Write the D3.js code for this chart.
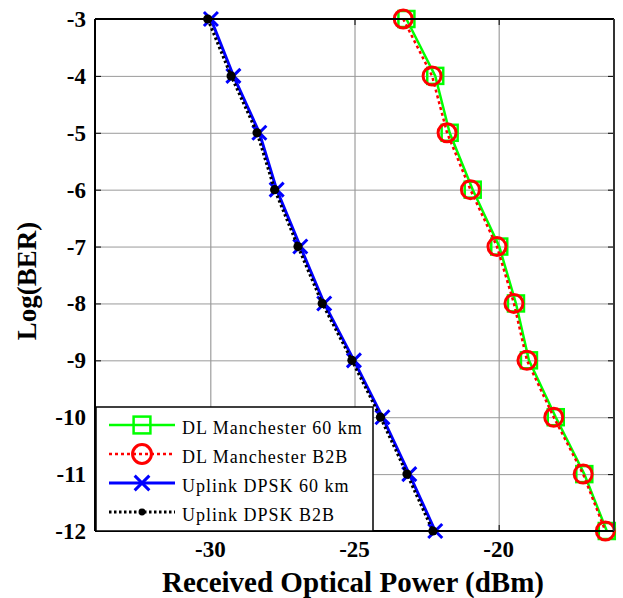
<!DOCTYPE html>
<html>
<head>
<meta charset="utf-8">
<script src="https://cdn.jsdelivr.net/npm/d3@7"></script>
<style>
  body { margin: 0; background: #fff; }
  svg { display: block; }
</style>
</head>
<body>
<svg id="chart" width="623" height="598"></svg>
<script>
// BER levels (log10) at which each receiver sensitivity was measured
const berLevels = [-3, -4, -5, -6, -7, -8, -9, -10, -11, -12];

// Received optical power (dBm) needed for each BER level
const dlManchester60km = [-23.2, -22.2, -21.7, -20.9, -19.98, -19.4, -18.95, -18.02, -17.03, -16.25];
const dlManchesterB2B  = [-23.31, -22.31, -21.79, -20.98, -20.06, -19.47, -19.02, -18.09, -17.07, -16.3];
const uplinkDpsk60km   = [-29.98, -29.2, -28.3, -27.7, -26.88, -26.05, -25.02, -24.03, -23.1, -22.2];
const uplinkDpskB2B    = [-30.09, -29.28, -28.38, -27.77, -26.96, -26.12, -25.09, -24.1, -23.18, -22.28];

const seriesNames = [
  "DL Manchester 60 km",
  "DL Manchester B2B",
  "Uplink DPSK 60 km",
  "Uplink DPSK B2B"
];

const xTickValues = [-30, -25, -20];
const yTickValues = [-3, -4, -5, -6, -7, -8, -9, -10, -11, -12];
const xDomain = [-34, -16];
const yDomain = [-12, -3];

const xTitle = "Received Optical Power (dBm)";
const yTitle = "Log(BER)";

// ---- layout ----
const plot = { left: 95, right: 614, top: 19, bottom: 531 };
const serif = "'Liberation Serif', 'Times New Roman', serif";

const svg = d3.select("#chart");

const x = d3.scaleLinear().domain(xDomain).range([plot.left, plot.right]);
const y = d3.scaleLinear().domain(yDomain).range([plot.bottom, plot.top]);

// ---- grid ----
const grid = svg.append("g").attr("class", "grid");
grid.append("g")
  .attr("transform", `translate(0,${plot.bottom})`)
  .call(d3.axisBottom(x).tickValues(xTickValues).tickSize(-(plot.bottom - plot.top)).tickFormat(""))
  .call(g => g.select(".domain").remove())
  .call(g => g.selectAll("line").attr("stroke", "#8a8a8a").attr("stroke-width", 1));
grid.append("g")
  .attr("transform", `translate(${plot.left},0)`)
  .call(d3.axisLeft(y).tickValues(yTickValues).tickSize(-(plot.right - plot.left)).tickFormat(""))
  .call(g => g.select(".domain").remove())
  .call(g => g.selectAll("line").attr("stroke", "#9a9a9a").attr("stroke-width", 1));

// ---- inward tick marks on all four sides ----
const tickLen = 6;
const ticks = svg.append("g").attr("class", "ticks");
ticks.append("g").attr("transform", `translate(0,${plot.bottom})`)
  .call(d3.axisBottom(x).tickValues(xTickValues).tickSizeInner(-tickLen).tickSizeOuter(0).tickFormat(""))
  .call(g => g.select(".domain").remove());
ticks.append("g").attr("transform", `translate(0,${plot.top})`)
  .call(d3.axisTop(x).tickValues(xTickValues).tickSizeInner(-tickLen).tickSizeOuter(0).tickFormat(""))
  .call(g => g.select(".domain").remove());
ticks.append("g").attr("transform", `translate(${plot.left},0)`)
  .call(d3.axisLeft(y).tickValues(yTickValues).tickSizeInner(-tickLen).tickSizeOuter(0).tickFormat(""))
  .call(g => g.select(".domain").remove());
ticks.append("g").attr("transform", `translate(${plot.right},0)`)
  .call(d3.axisRight(y).tickValues(yTickValues).tickSizeInner(-tickLen).tickSizeOuter(0).tickFormat(""))
  .call(g => g.select(".domain").remove());
ticks.selectAll("line").attr("stroke", "#000").attr("stroke-width", 1);

// ---- tick labels ----
const labels = svg.append("g").attr("font-family", serif).attr("font-weight", "bold")
  .attr("font-size", 23).attr("fill", "#000");
labels.selectAll("text.xl").data(xTickValues).join("text")
  .attr("class", "xl")
  .attr("x", d => x(d))
  .attr("y", 557)
  .attr("text-anchor", "middle")
  .text(d => String(d));
labels.selectAll("text.yl").data(yTickValues).join("text")
  .attr("class", "yl")
  .attr("x", 86)
  .attr("y", d => y(d) + 8)
  .attr("text-anchor", "end")
  .text(d => String(d));

// ---- axis titles ----
svg.append("text")
  .attr("x", 353).attr("y", 592)
  .attr("text-anchor", "middle")
  .attr("font-family", serif).attr("font-weight", "bold").attr("font-size", 29)
  .text(xTitle);
svg.append("text")
  .attr("transform", "translate(36,281) rotate(-90)")
  .attr("text-anchor", "middle")
  .attr("font-family", serif).attr("font-weight", "bold").attr("font-size", 27)
  .text(yTitle);

// ---- series ----
const series = [
  { name: seriesNames[0], values: dlManchester60km, color: "#00ff00", width: 2.5, dash: null,  marker: "square" },
  { name: seriesNames[1], values: dlManchesterB2B,  color: "#ff0000", width: 2.5, dash: "3,3", marker: "circle" },
  { name: seriesNames[2], values: uplinkDpsk60km,   color: "#0000ff", width: 3,   dash: null,  marker: "cross" },
  { name: seriesNames[3], values: uplinkDpskB2B,    color: "#000000", width: 3,   dash: "2.5,2.5", marker: "dot" }
];

function drawMarker(g, type, color, size) {
  const s = size || 1;
  if (type === "square") {
    g.append("rect").attr("x", -8 * s).attr("y", -8 * s).attr("width", 16 * s).attr("height", 16 * s)
      .attr("fill", "none").attr("stroke", color).attr("stroke-width", 2.5);
  } else if (type === "circle") {
    g.append("circle").attr("r", 9 * s)
      .attr("fill", "none").attr("stroke", color).attr("stroke-width", 3);
  } else if (type === "cross") {
    const a = 7 * s;
    g.append("path").attr("d", `M${-a},${-a}L${a},${a}M${-a},${a}L${a},${-a}`)
      .attr("fill", "none").attr("stroke", color).attr("stroke-width", 3);
  } else if (type === "dot") {
    g.append("circle").attr("r", 4.6 * s).attr("fill", color);
  }
}

const line = d3.line().x(d => x(d[0])).y(d => y(d[1]));
const seriesLayer = svg.append("g").attr("class", "series");
series.forEach(s => {
  const pts = s.values.map((v, i) => [v, berLevels[i]]);
  const g = seriesLayer.append("g");
  g.append("path")
    .datum(pts)
    .attr("d", line)
    .attr("fill", "none")
    .attr("stroke", s.color)
    .attr("stroke-width", s.width)
    .attr("stroke-dasharray", s.dash);
  pts.forEach(p => {
    const m = g.append("g").attr("transform", `translate(${x(p[0])},${y(p[1])})`);
    drawMarker(m, s.marker, s.color, 1);
  });
});

// ---- axes frame ----
const frame = svg.append("g").attr("fill", "none");
frame.append("line").attr("x1", plot.left).attr("x2", plot.right).attr("y1", plot.top).attr("y2", plot.top)
  .attr("stroke", "#000").attr("stroke-width", 2);
frame.append("line").attr("x1", plot.left).attr("x2", plot.right).attr("y1", plot.bottom).attr("y2", plot.bottom)
  .attr("stroke", "#000").attr("stroke-width", 2);
frame.append("line").attr("x1", plot.left).attr("x2", plot.left).attr("y1", plot.top).attr("y2", plot.bottom)
  .attr("stroke", "#000").attr("stroke-width", 2);
frame.append("line").attr("x1", plot.right).attr("x2", plot.right).attr("y1", plot.top).attr("y2", plot.bottom)
  .attr("stroke", "#333").attr("stroke-width", 2);

// ---- legend ----
const legendBox = { x: 96, y: 407, w: 277, h: 124 };
const legend = svg.append("g").attr("class", "legend");
legend.append("rect")
  .attr("x", legendBox.x).attr("y", legendBox.y)
  .attr("width", legendBox.w).attr("height", legendBox.h)
  .attr("fill", "#fff").attr("stroke", "#000").attr("stroke-width", 1.5);
const rowY = d3.scalePoint().domain(seriesNames).range([425, 512]);
series.forEach(s => {
  const ry = rowY(s.name);
  const row = legend.append("g");
  row.append("line")
    .attr("x1", 109).attr("x2", 175).attr("y1", ry).attr("y2", ry)
    .attr("stroke", s.color).attr("stroke-width", s.width)
    .attr("stroke-dasharray", s.dash);
  const m = row.append("g").attr("transform", `translate(142,${ry})`);
  drawMarker(m, s.marker, s.color, s.marker === "dot" ? 0.75 : 1.05);
  row.append("text")
    .attr("x", 182).attr("y", ry + 9)
    .attr("font-family", serif).attr("font-size", 18)
    .attr("letter-spacing", 1)
    .attr("fill", "#000")
    .text(s.name);
});
</script>
</body>
</html>
